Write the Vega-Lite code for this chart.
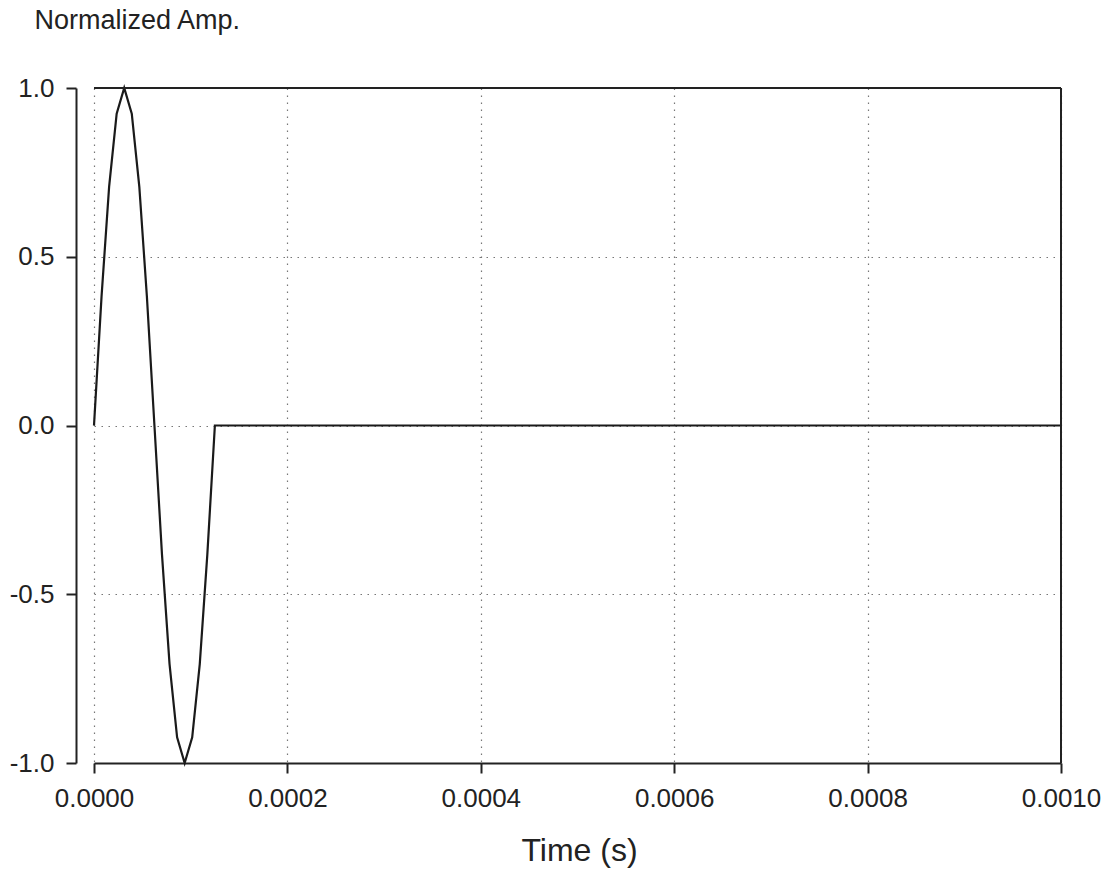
{
  "$schema": "https://vega.github.io/schema/vega-lite/v6.json",
  "width": 967,
  "height": 675,
  "autosize": {"type": "none"},
  "padding": {"left": 94, "top": 88, "right": 49, "bottom": 110},
  "background": "white",
  "config": {"view": {"stroke": null}, "font": "Liberation Sans"},
  "data": {"values": [
    {"t": 0, "amp": 0},
    {"t": 0.0000078125, "amp": 0.3827},
    {"t": 0.000015625, "amp": 0.7071},
    {"t": 0.0000234375, "amp": 0.9239},
    {"t": 0.00003125, "amp": 1},
    {"t": 0.0000390625, "amp": 0.9239},
    {"t": 0.000046875, "amp": 0.7071},
    {"t": 0.0000546875, "amp": 0.3827},
    {"t": 0.0000625, "amp": 0},
    {"t": 0.0000703125, "amp": -0.3827},
    {"t": 0.000078125, "amp": -0.7071},
    {"t": 0.0000859375, "amp": -0.9239},
    {"t": 0.00009375, "amp": -1},
    {"t": 0.0001015625, "amp": -0.9239},
    {"t": 0.000109375, "amp": -0.7071},
    {"t": 0.0001171875, "amp": -0.3827},
    {"t": 0.000125, "amp": 0},
    {"t": 0.001, "amp": 0}
  ]},
  "layer": [
    {
      "mark": {"type": "line", "stroke": "#1a1a1a", "strokeWidth": 2.2},
      "encoding": {
        "x": {
          "field": "t", "type": "quantitative",
          "scale": {"domain": [0, 0.001], "nice": false, "zero": false},
          "axis": {
            "title": "Time (s)",
            "values": [0, 0.0002, 0.0004, 0.0006, 0.0008, 0.001],
            "format": ".4f",
            "grid": true, "gridDash": [1.5, 5.5], "gridColor": "#777", "gridWidth": 1.2,
            "domainColor": "#222", "domainWidth": 2,
            "tickColor": "#222", "tickWidth": 2, "tickSize": 10,
            "labelFontSize": 26, "labelColor": "#222", "labelPadding": 12,
            "labelFlush": false, "labelOverlap": false,
            "titleFontSize": 32, "titleFontWeight": "normal", "titleColor": "#222",
            "titleX": 485, "titleY": 97, "titleBaseline": "alphabetic", "titleAlign": "center"
          }
        },
        "y": {
          "field": "amp", "type": "quantitative",
          "scale": {"domain": [-1, 1], "nice": false},
          "axis": {
            "title": "Normalized Amp.",
            "values": [-1, -0.5, 0, 0.5, 1],
            "labelExpr": "datum.value < 0 ? '-' + format(-datum.value, '.1f') : format(datum.value, '.1f')",
            "offset": 18,
            "grid": true, "gridDash": [1.5, 5.5], "gridColor": "#777", "gridWidth": 1.2,
            "domainColor": "#222", "domainWidth": 2,
            "tickColor": "#222", "tickWidth": 2, "tickSize": 10,
            "labelFontSize": 26, "labelColor": "#222", "labelPadding": 12,
            "labelFlush": false, "labelOverlap": false,
            "titleFontSize": 27, "titleFontWeight": "normal", "titleColor": "#222",
            "titleAngle": 0, "titleX": -42, "titleY": -60,
            "titleAlign": "left", "titleBaseline": "alphabetic"
          }
        }
      }
    },
    {
      "data": {"values": [{}]},
      "mark": {"type": "rule", "stroke": "#222", "strokeWidth": 2},
      "encoding": {
        "x": {"datum": 0, "type": "quantitative"},
        "x2": {"datum": 0.001},
        "y": {"datum": 1, "type": "quantitative"}
      }
    },
    {
      "data": {"values": [{}]},
      "mark": {"type": "rule", "stroke": "#222", "strokeWidth": 2},
      "encoding": {
        "x": {"datum": 0.001, "type": "quantitative"},
        "y": {"datum": -1, "type": "quantitative"},
        "y2": {"datum": 1}
      }
    }
  ]
}
